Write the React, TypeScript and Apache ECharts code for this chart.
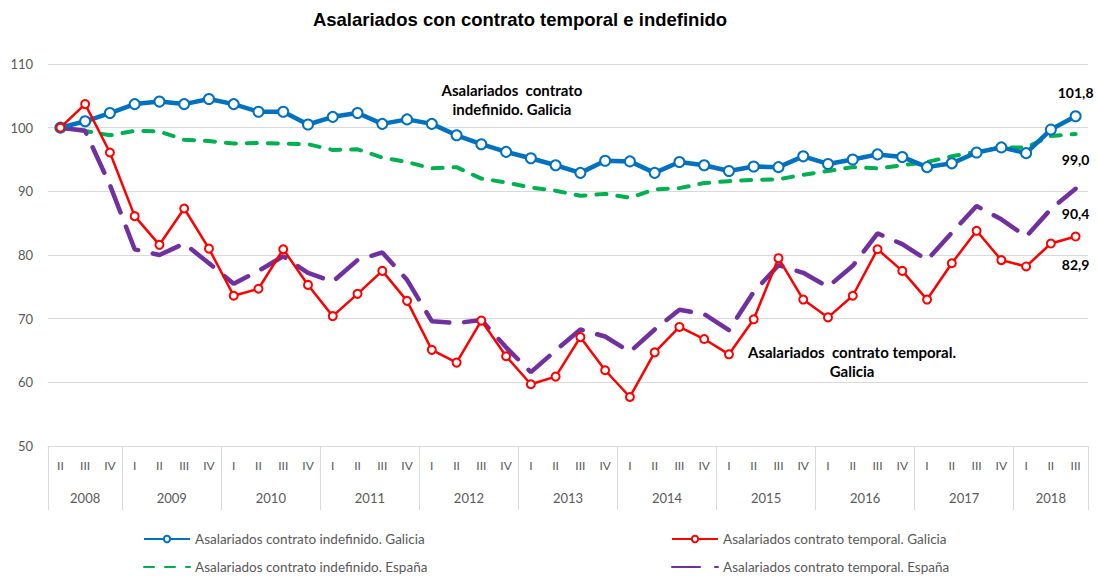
import React, { useEffect, useRef } from 'react';
import * as echarts from 'echarts';

// ---------- data ----------
const quarterLabels = [
  'II', 'III', 'IV',
  'I', 'II', 'III', 'IV',
  'I', 'II', 'III', 'IV',
  'I', 'II', 'III', 'IV',
  'I', 'II', 'III', 'IV',
  'I', 'II', 'III', 'IV',
  'I', 'II', 'III', 'IV',
  'I', 'II', 'III', 'IV',
  'I', 'II', 'III', 'IV',
  'I', 'II', 'III', 'IV',
  'I', 'II', 'III',
];
const yearLabels = ['2008', '2009', '2010', '2011', '2012', '2013', '2014', '2015', '2016', '2017', '2018'];
const quartersPerYear = [3, 4, 4, 4, 4, 4, 4, 4, 4, 4, 3];

const indefGalicia = [
  100, 101.0, 102.3, 103.7, 104.1, 103.7, 104.5, 103.7, 102.5, 102.5,
  100.5, 101.7, 102.3, 100.6, 101.3, 100.6, 98.8, 97.4, 96.2, 95.2,
  94.1, 92.9, 94.8, 94.7, 92.9, 94.6, 94.1, 93.2, 93.9, 93.8,
  95.5, 94.3, 95.0, 95.8, 95.4, 93.8, 94.4, 96.1, 96.9, 96.0,
  99.7, 101.8,
];
const tempGalicia = [
  100, 103.7, 96.1, 86.1, 81.6, 87.3, 81.0, 73.6, 74.7, 80.9,
  75.3, 70.4, 73.9, 77.5, 72.8, 65.1, 63.1, 69.7, 64.1, 59.7,
  60.9, 67.1, 61.9, 57.7, 64.7, 68.7, 66.8, 64.4, 69.9, 79.5,
  73.0, 70.2, 73.6, 80.9, 77.5, 73.0, 78.7, 83.8, 79.2, 78.2,
  81.8, 82.9,
];
const indefEspana = [
  100, 99.5, 98.8, 99.5, 99.4, 98.1, 97.9, 97.5, 97.6, 97.5,
  97.4, 96.5, 96.6, 95.3, 94.6, 93.6, 93.8, 92.0, 91.4, 90.6,
  90.1, 89.3, 89.6, 89.0, 90.3, 90.5, 91.3, 91.6, 91.8, 91.9,
  92.6, 93.2, 93.8, 93.6, 94.1, 94.6, 95.5, 96.2, 96.9, 96.9,
  98.7, 99.0,
];
const tempEspana = [
  100, 99.5, 91.0, 80.9, 80.0, 81.8, 78.7, 75.5, 77.5, 79.8,
  77.2, 75.8, 79.2, 80.4, 76.1, 69.6, 69.3, 69.8, 65.5, 61.6,
  65.0, 68.3, 67.2, 64.8, 68.3, 71.4, 70.7, 68.2, 74.2, 78.4,
  77.2, 75.0, 78.3, 83.4, 81.7, 79.2, 83.5, 87.7, 85.6, 82.9,
  87.2, 90.4,
];

const yMin = 50;
const yMax = 110;
const yStep = 10;

const NAME_IG = 'Asalariados contrato indefinido. Galicia';
const NAME_TG = 'Asalariados contrato temporal. Galicia';
const NAME_IE = 'Asalariados contrato indefinido. España';
const NAME_TE = 'Asalariados contrato temporal. España';

const TITLE = 'Asalariados con contrato temporal e indefinido';
const NOTE_IG = 'Asalariados  contrato\nindefinido. Galicia';
const NOTE_TG = 'Asalariados  contrato temporal.\nGalicia';

// ---------- helpers ----------
const fmt = (v: number) => v.toFixed(1).replace('.', ',');

function withLastLabel(arr: number[], position: string, distance: number) {
  return arr.map((v, i) =>
    i === arr.length - 1
      ? {
          value: v,
          label: {
            show: true,
            position,
            distance,
            formatter: fmt(v),
            fontFamily: 'Lato',
            fontWeight: 'bold',
            fontSize: 14,
            color: '#000',
          },
        }
      : v
  );
}

// year axis: two slots per quarter, boundaryGap false → boundaries & centres fall on slots
const yearAxisData: string[] = [];
const yearBoundaries = new Set<number>();
{
  let pos = 0;
  yearBoundaries.add(0);
  quartersPerYear.forEach((n, k) => {
    yearAxisData[pos + n] = yearLabels[k];
    pos += 2 * n;
    yearBoundaries.add(pos);
  });
  for (let i = 0; i <= pos; i++) if (yearAxisData[i] === undefined) yearAxisData[i] = '';
}

const FONT = 'Lato';
const AXIS_GREY = '#d9d9d9';
const TEXT_GREY = '#595959';

export default function App() {
  const ref = useRef<HTMLDivElement>(null);

  useEffect(() => {
    if (!ref.current) return;
    const chart = echarts.init(ref.current, undefined, { renderer: 'svg' });

    const legendCommon = {
      itemWidth: 46,
      itemHeight: 8,
      padding: 0,
      selectedMode: false,
      textStyle: { fontFamily: FONT, fontSize: 13.5, color: TEXT_GREY },
    };

    chart.setOption({
      animation: false,
      textStyle: { fontFamily: FONT },
      title: {
        text: TITLE,
        left: 520,
        top: 10,
        padding: 0,
        textAlign: 'center',
        textStyle: { fontFamily: 'Liberation Sans', fontWeight: 'bold', fontSize: 18.5, color: '#000' },
      },
      legend: [
        { ...legendCommon, data: [NAME_IG], left: 143, top: 532 },
        { ...legendCommon, data: [NAME_TG], left: 671, top: 532 },
        { ...legendCommon, data: [NAME_IE], left: 143, top: 560 },
        { ...legendCommon, data: [NAME_TE], left: 671, top: 560 },
      ],
      grid: { left: 48, right: 9, top: 64, bottom: 130, containLabel: false },
      xAxis: [
        {
          type: 'category',
          data: quarterLabels,
          boundaryGap: true,
          axisLine: { show: true, lineStyle: { color: AXIS_GREY, width: 1 } },
          axisTick: { show: false },
          axisLabel: { interval: 0, margin: 13, fontSize: 12, color: TEXT_GREY, fontFamily: FONT },
          splitLine: { show: false },
        },
        {
          type: 'category',
          data: yearAxisData,
          boundaryGap: false,
          position: 'bottom',
          axisLine: { show: false },
          axisTick: {
            show: true,
            length: 64,
            interval: (index: number) => yearBoundaries.has(index),
            lineStyle: { color: AXIS_GREY, width: 1 },
          },
          axisLabel: {
            interval: (index: number, value: string) => value !== '',
            margin: 45,
            fontSize: 13,
            color: TEXT_GREY,
            fontFamily: FONT,
          },
          splitLine: { show: false },
        },
      ],
      yAxis: {
        type: 'value',
        min: yMin,
        max: yMax,
        interval: yStep,
        axisLine: { show: false },
        axisTick: { show: false },
        axisLabel: { margin: 15, fontSize: 13, color: TEXT_GREY, fontFamily: FONT },
        splitLine: { show: true, lineStyle: { color: AXIS_GREY, width: 1 } },
      },
      graphic: [
        {
          type: 'text',
          x: 512,
          y: 80,
          style: {
            text: NOTE_IG,
            align: 'center',
            verticalAlign: 'top',
            font: 'bold 15px Lato',
            lineHeight: 19,
            fill: '#000',
          },
          z: 10,
        },
        {
          type: 'text',
          x: 852,
          y: 342,
          style: {
            text: NOTE_TG,
            align: 'center',
            verticalAlign: 'top',
            font: 'bold 15px Lato',
            lineHeight: 19,
            fill: '#000',
          },
          z: 10,
        },
      ],
      series: [
        {
          name: NAME_IE,
          type: 'line',
          xAxisIndex: 0,
          data: withLastLabel(indefEspana, 'bottom', 17),
          z: 2,
          silent: true,
          showSymbol: true,
          showAllSymbol: true,
          symbol: 'circle',
          symbolSize: 2,
          itemStyle: { color: 'rgba(0,0,0,0)' },
          lineStyle: { color: '#00B050', width: 4, type: [10, 11], cap: 'round' },
        },
        {
          name: NAME_TE,
          type: 'line',
          xAxisIndex: 0,
          data: withLastLabel(tempEspana, 'bottom', 17),
          z: 2,
          silent: true,
          showSymbol: true,
          showAllSymbol: true,
          symbol: 'circle',
          symbolSize: 2,
          itemStyle: { color: 'rgba(0,0,0,0)' },
          lineStyle: { color: '#7030A0', width: 4.5, type: [28, 15], cap: 'round' },
        },
        {
          name: NAME_IG,
          type: 'line',
          xAxisIndex: 0,
          data: withLastLabel(indefGalicia, 'top', 11),
          z: 3,
          silent: true,
          showSymbol: true,
          showAllSymbol: true,
          symbol: 'emptyCircle',
          symbolSize: 10,
          itemStyle: { color: '#0070C0', borderColor: '#0070C0', borderWidth: 2.8 },
          lineStyle: { color: '#0070C0', width: 4.5 },
        },
        {
          name: NAME_TG,
          type: 'line',
          xAxisIndex: 0,
          data: withLastLabel(tempGalicia, 'bottom', 16),
          z: 4,
          silent: true,
          showSymbol: true,
          showAllSymbol: true,
          symbol: 'emptyCircle',
          symbolSize: 8,
          itemStyle: { color: '#FF0000', borderColor: '#FF0000', borderWidth: 1.5 },
          lineStyle: { color: '#FF0000', width: 2.5 },
        },
      ],
    });

    return () => chart.dispose();
  }, []);

  return (
    <div
      ref={ref}
      style={{ position: 'absolute', left: 0, top: 0, width: 1097, height: 576, background: '#fff' }}
    />
  );
}
